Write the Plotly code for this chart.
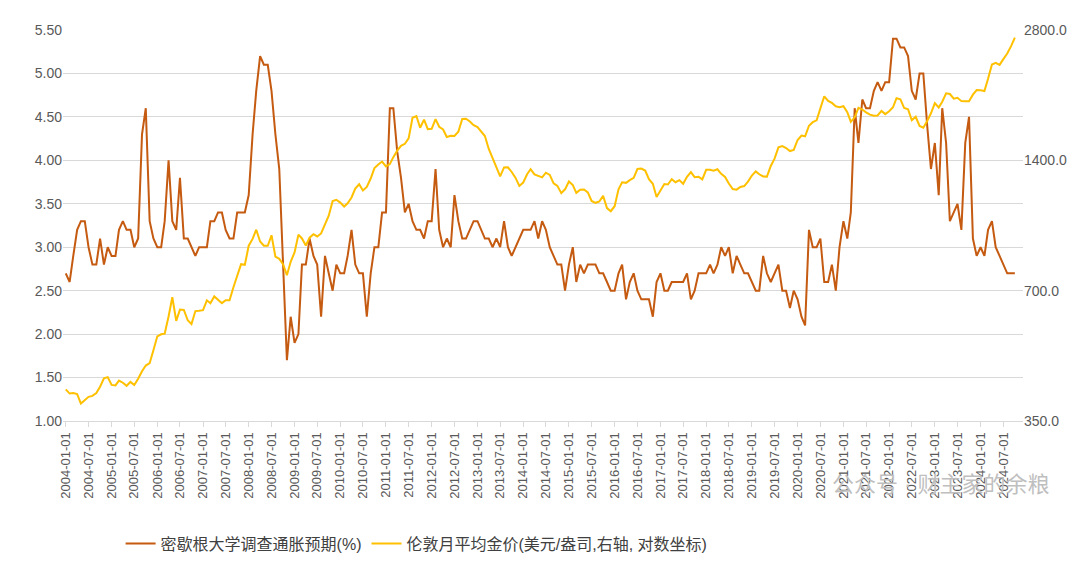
import plotly.graph_objects as go
import pandas as pd

start = "2004-01-01"
michigan = [
 2.7,2.6,2.9,3.2,3.3,3.3,3.0,2.8,2.8,3.1,2.8,3.0,
 2.9,2.9,3.2,3.3,3.2,3.2,3.0,3.1,4.3,4.6,3.3,3.1,
 3.0,3.0,3.3,4.0,3.3,3.2,3.8,3.1,3.1,3.0,2.9,3.0,
 3.0,3.0,3.3,3.3,3.4,3.4,3.2,3.1,3.1,3.4,3.4,3.4,
 3.6,4.3,4.8,5.2,5.1,5.1,4.8,4.3,3.9,2.8,1.7,2.2,
 1.9,2.0,2.8,2.8,3.1,2.9,2.8,2.2,2.9,2.7,2.5,2.8,
 2.7,2.7,2.9,3.2,2.8,2.7,2.7,2.2,2.7,3.0,3.0,3.4,
 3.4,4.6,4.6,4.1,3.8,3.4,3.5,3.3,3.2,3.2,3.1,3.3,
 3.3,3.9,3.2,3.0,3.1,3.0,3.6,3.3,3.1,3.1,3.2,3.3,
 3.3,3.2,3.1,3.1,3.0,3.1,3.0,3.3,3.0,2.9,3.0,3.1,
 3.2,3.2,3.2,3.3,3.1,3.3,3.2,3.0,2.9,2.8,2.8,2.5,
 2.8,3.0,2.6,2.8,2.7,2.8,2.8,2.8,2.7,2.7,2.6,2.5,
 2.5,2.7,2.8,2.4,2.6,2.7,2.5,2.4,2.4,2.4,2.2,2.6,
 2.7,2.5,2.5,2.6,2.6,2.6,2.6,2.7,2.4,2.5,2.7,2.7,
 2.7,2.8,2.7,2.8,3.0,2.9,3.0,2.7,2.9,2.8,2.7,2.7,
 2.6,2.5,2.5,2.9,2.7,2.6,2.7,2.8,2.5,2.5,2.3,2.5,
 2.4,2.2,2.1,3.2,3.0,3.0,3.1,2.6,2.6,2.8,2.5,3.0,
 3.3,3.1,3.4,4.6,4.2,4.7,4.6,4.6,4.8,4.9,4.8,4.9,
 4.9,5.4,5.4,5.3,5.3,5.2,4.8,4.7,5.0,5.0,4.4,3.9,
 4.2,3.6,4.6,4.2,3.3,3.4,3.5,3.2,4.2,4.5,3.1,2.9,
 3.0,2.9,3.2,3.3,3.0,2.9,2.8,2.7,2.7,2.7]
gold = [
 414,405,406,404,384,392,398,400,406,420,439,442,
 424,423,434,429,422,431,424,438,456,470,476,510,
 549,555,557,610,676,596,633,632,598,586,628,629,
 631,665,655,679,667,655,665,665,713,754,806,803,
 889,922,968,909,889,889,940,839,829,806,760,816,
 858,943,924,890,928,945,934,949,996,1043,1127,1135,
 1118,1095,1114,1149,1205,1233,1193,1215,1271,1343,1370,1391,
 1356,1372,1424,1474,1512,1529,1573,1756,1772,1665,1739,1652,
 1656,1743,1674,1650,1585,1596,1594,1630,1744,1747,1721,1688,
 1670,1627,1593,1487,1414,1343,1286,1348,1349,1316,1275,1222,
 1244,1300,1336,1299,1287,1279,1311,1296,1239,1222,1176,1200,
 1251,1227,1178,1198,1199,1181,1128,1117,1125,1159,1086,1068,
 1097,1200,1246,1242,1260,1276,1337,1340,1326,1266,1236,1152,
 1192,1234,1231,1266,1246,1260,1236,1283,1315,1280,1283,1265,
 1331,1331,1325,1335,1303,1282,1238,1202,1198,1215,1221,1250,
 1291,1320,1300,1285,1284,1359,1413,1500,1510,1495,1471,1480,
 1560,1597,1591,1683,1715,1732,1846,1968,1921,1900,1866,1858,
 1867,1808,1718,1760,1850,1834,1807,1785,1775,1777,1821,1790,
 1817,1856,1948,1937,1849,1837,1733,1765,1681,1665,1726,1798,
 1898,1854,1912,2000,1992,1943,1952,1918,1916,1916,1985,2034,
 2033,2024,2160,2331,2351,2326,2398,2470,2570,2690,2760]
dates = pd.date_range(start, periods=len(michigan), freq="MS")
tick_dates = pd.date_range("2004-01-01", "2024-07-01", freq="6MS")
tick_text = [d.strftime("%Y-%m-%d") for d in tick_dates]
left_ticks = [1.0 + 0.5*i for i in range(10)]
right_ticks = [350, 700, 1400, 2800]

font = "Liberation Sans, Noto Sans CJK SC"
fig = go.Figure()
fig.add_trace(go.Scatter(x=dates, y=michigan, mode="lines", name="密歇根大学调查通胀预期(%)",
                         line=dict(color="#C55A11", width=2)))
fig.add_trace(go.Scatter(x=dates, y=gold[:len(dates)], mode="lines", yaxis="y2",
                         name="伦敦月平均金价(美元/盎司,右轴, 对数坐标)",
                         line=dict(color="#FFC000", width=2)))
fig.update_layout(
    width=1080, height=565, plot_bgcolor="white", paper_bgcolor="white",
    margin=dict(l=55, r=65, t=22, b=137),
    font=dict(family=font, size=14, color="#595959"),
    xaxis=dict(range=[pd.Timestamp("2003-12-10"), pd.Timestamp("2024-12-05")],
               tickvals=tick_dates, ticktext=tick_text, tickangle=-90, automargin=False,
               showgrid=False, showline=True, linecolor="#D9D9D9",
               ticks="outside", tickcolor="#D9D9D9", ticklen=5, tickfont=dict(size=13)),
    yaxis=dict(range=[1, 5.5], tickvals=left_ticks, tickformat=".2f",
               gridcolor="#D9D9D9", zeroline=False, automargin=False),
    yaxis2=dict(type="log", overlaying="y", side="right", range=[2.544068, 3.447158],
                tickvals=right_ticks, ticktext=[f"{v:.1f}" for v in right_ticks],
                showgrid=False, zeroline=False, automargin=False),
    legend=dict(orientation="h", x=0.06, y=-0.27, xanchor="left", yanchor="top",
                font=dict(size=16, color="#404040")),
    showlegend=True,
)
fig.add_annotation(text="公众号 · 财主家的余粮", xref="paper", yref="paper", x=1.03, y=-0.2,
                   xanchor="right", showarrow=False, font=dict(size=22, color="#BFBFBF"))
fig.write_html("out.html")
